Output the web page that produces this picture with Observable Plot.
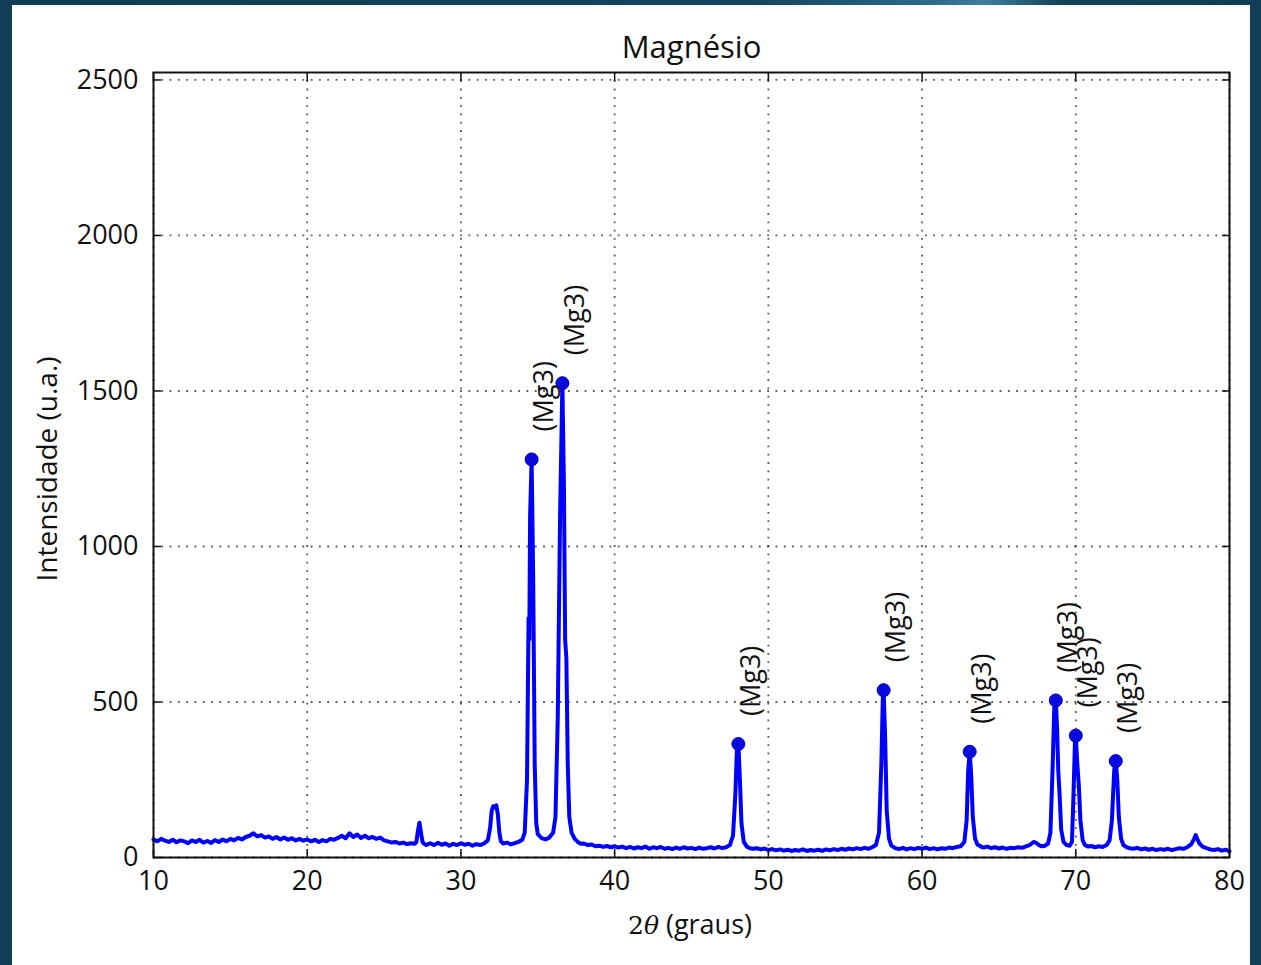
<!DOCTYPE html>
<html>
<head>
<meta charset="utf-8">
<script src="https://cdn.jsdelivr.net/npm/d3@7"></script>
<script src="https://cdn.jsdelivr.net/npm/@observablehq/plot@0.6"></script>
<style>
  html, body { margin: 0; padding: 0; width: 1261px; height: 965px; overflow: hidden; }
  body {
    position: relative;
    font-family: 'Open Sans', sans-serif;
    background: linear-gradient(to right, #123d56 0%, #15445e 60%, #2b6b8a 74%, #3d7f9c 78%, #16425b 84%, #123d56 100%);
  }
  #card { position: absolute; left: 12px; top: 5px; width: 1238px; height: 960px; background: #fff; }
  #chart { position: absolute; left: 0; top: 0; }
  #xlabel {
    position: absolute; left: 490px; width: 400px; top: 905px; line-height: 38px;
    text-align: center; font-size: 27px; color: #111;
  }
  #xlabel .m { font-family: 'DejaVu Serif', serif; font-size: 25px; }
  #xlabel .m i { font-style: italic; }
</style>
</head>
<body>
<div id="card"></div>
<div id="chart"></div>
<div id="xlabel"><span class="m">2<i>θ</i></span> (graus)</div>
<script>
// ---- data ----
const title = "Magnésio";
const yLabel = "Intensidade (u.a.)";
const xTicks = [10, 20, 30, 40, 50, 60, 70, 80];
const yTicks = [0, 500, 1000, 1500, 2000, 2500];

// diffraction scan: [2θ (degrees), intensity (u.a.)]
const scan = [
  [10.00,58],[10.25,52],[10.50,60],[10.75,54],[11.00,50],[11.25,57],[11.50,49],[11.75,55],
  [12.00,52],[12.25,46],[12.50,55],[12.75,50],[13.00,57],[13.25,48],[13.50,53],[13.75,47],
  [14.00,56],[14.25,50],[14.50,58],[14.75,52],[15.00,60],[15.25,55],[15.50,63],[15.75,58],
  [16.00,66],[16.25,70],[16.50,78],[16.75,68],[17.00,72],[17.25,64],[17.50,68],[17.75,60],
  [18.00,66],[18.25,58],[18.50,64],[18.75,57],[19.00,62],[19.25,55],[19.50,60],[19.75,54],
  [20.00,58],[20.25,52],[20.50,57],[20.75,50],[21.00,56],[21.25,52],[21.50,60],[21.75,57],
  [22.00,63],[22.25,70],[22.50,62],[22.75,78],[23.00,66],[23.25,74],[23.50,63],[23.75,70],
  [24.00,62],[24.25,66],[24.50,60],[24.75,64],[25.00,55],[25.25,52],[25.50,48],[25.75,50],
  [26.00,45],[26.25,48],[26.50,43],[26.75,46],[27.00,44],[27.10,50],[27.20,85],[27.30,112],
  [27.40,80],[27.50,50],[27.60,44],[27.75,40],[28.00,46],[28.25,40],[28.50,47],[28.75,41],
  [29.00,45],[29.25,38],[29.50,44],[29.75,40],[30.00,46],[30.25,41],[30.50,44],[30.75,38],
  [31.00,43],[31.25,40],[31.50,45],[31.75,55],[31.90,95],[32.00,150],[32.10,165],[32.20,160],
  [32.30,168],[32.40,140],[32.50,80],[32.60,52],[32.75,45],[33.00,48],[33.25,42],[33.50,46],
  [33.75,50],[34.00,58],[34.15,80],[34.30,250],[34.40,770],[34.45,700],[34.50,1100],[34.60,1280],
  [34.70,900],[34.80,300],[34.90,110],[35.00,75],[35.25,62],[35.50,58],[35.75,64],[36.00,80],
  [36.15,130],[36.30,450],[36.45,1100],[36.60,1525],[36.70,1200],[36.78,700],[36.86,640],[36.95,300],
  [37.05,130],[37.20,80],[37.40,60],[37.60,50],[37.80,44],[38.00,45],[38.25,40],[38.50,42],
  [38.75,36],[39.00,38],[39.25,34],[39.50,37],[39.75,33],[40.00,36],[40.25,32],[40.50,35],
  [40.75,30],[41.00,34],[41.25,29],[41.50,33],[41.75,30],[42.00,35],[42.25,28],[42.50,33],
  [42.75,30],[43.00,34],[43.25,28],[43.50,31],[43.75,27],[44.00,32],[44.25,28],[44.50,33],
  [44.75,29],[45.00,31],[45.25,27],[45.50,32],[45.75,28],[46.00,30],[46.25,33],[46.50,29],
  [46.75,34],[47.00,30],[47.25,33],[47.50,40],[47.70,70],[47.85,200],[47.95,340],[48.05,365],
  [48.15,250],[48.25,110],[48.40,50],[48.60,35],[48.80,30],[49.00,28],[49.25,30],[49.50,26],
  [49.75,29],[50.00,24],[50.25,27],[50.50,23],[50.75,26],[51.00,22],[51.25,25],[51.50,21],
  [51.75,24],[52.00,22],[52.25,26],[52.50,21],[52.75,24],[53.00,22],[53.25,25],[53.50,21],
  [53.75,26],[54.00,23],[54.25,27],[54.50,24],[54.75,28],[55.00,25],[55.25,29],[55.50,26],
  [55.75,30],[56.00,27],[56.25,31],[56.50,28],[56.75,33],[57.00,40],[57.20,80],[57.35,300],
  [57.45,520],[57.50,538],[57.60,380],[57.70,150],[57.85,60],[58.00,38],[58.25,30],[58.50,27],
  [58.75,31],[59.00,26],[59.25,30],[59.50,27],[59.75,31],[60.00,28],[60.25,32],[60.50,27],
  [60.75,30],[61.00,26],[61.25,30],[61.50,28],[61.75,32],[62.00,30],[62.25,34],[62.50,36],
  [62.75,50],[62.90,120],[63.00,280],[63.10,340],[63.20,260],[63.30,130],[63.45,60],[63.60,42],
  [63.80,36],[64.00,32],[64.25,35],[64.50,30],[64.75,33],[65.00,29],[65.25,32],[65.50,28],
  [65.75,31],[66.00,30],[66.25,33],[66.50,31],[66.75,36],[67.00,40],[67.25,50],[67.40,48],
  [67.60,40],[67.80,36],[68.00,38],[68.20,45],[68.35,80],[68.50,300],[68.60,480],[68.70,505],
  [68.78,420],[68.86,280],[68.95,200],[69.05,90],[69.20,50],[69.40,40],[69.60,38],[69.75,50],
  [69.85,200],[69.95,380],[70.00,392],[70.10,300],[70.20,230],[70.30,120],[70.45,55],[70.60,40],
  [70.80,35],[71.00,37],[71.25,33],[71.50,36],[71.75,34],[72.00,40],[72.20,55],[72.35,120],
  [72.50,280],[72.60,310],[72.70,250],[72.80,130],[72.95,60],[73.10,40],[73.30,33],[73.50,30],
  [73.75,28],[74.00,31],[74.25,26],[74.50,29],[74.75,25],[75.00,28],[75.25,24],[75.50,27],
  [75.75,25],[76.00,28],[76.25,24],[76.50,27],[76.75,30],[77.00,28],[77.25,33],[77.50,42],
  [77.70,60],[77.80,72],[77.90,60],[78.05,45],[78.25,35],[78.50,30],[78.75,26],[79.00,24],
  [79.25,27],[79.50,22],[79.75,25],[80.00,20]
];

// identified peaks: [2θ, intensity]
const peaks = [
  [34.60,1280],[36.60,1525],[48.05,365],[57.50,538],
  [63.10,340],[68.70,505],[70.00,392],[72.60,310]
];
const peakLabels = ["(Mg3)","(Mg3)","(Mg3)","(Mg3)","(Mg3)","(Mg3)","(Mg3)","(Mg3)"];

// ---- build chart ----
const rows = scan.map(([a, c]) => ({a, c}));
const peakRows = peaks.map(([a, c], i) => ({a, c, label: peakLabels[i]}));

const blue = "#0000ff";
const fs = 27;
const plain = d3.format("d");

const chart = Plot.plot({
  width: 1261,
  height: 965,
  marginLeft: 153,
  marginRight: 32,
  marginTop: 72,
  marginBottom: 108,
  style: {fontFamily: "'Open Sans', sans-serif", background: "transparent", color: "#111", overflow: "visible"},
  x: {domain: [10, 80]},
  y: {domain: [0, 2524]},
  marks: [
    Plot.gridX(xTicks, {stroke: "#222", strokeOpacity: 0.75, strokeWidth: 1.8, strokeDasharray: "1.8,6.5"}),
    Plot.gridY(yTicks, {stroke: "#222", strokeOpacity: 0.75, strokeWidth: 1.8, strokeDasharray: "1.8,6.5"}),
    Plot.line(rows, {x: "a", y: "c", stroke: blue, strokeWidth: 4, strokeLinejoin: "round"}),
    Plot.dot(peakRows, {x: "a", y: "c", r: 6.5, fill: "#0a0ae0", stroke: "#0000b0", strokeWidth: 1}),
    Plot.text(peakRows, {x: "a", y: "c", text: "label", rotate: -90, textAnchor: "start", lineAnchor: "middle", dx: 13, dy: -28, fontSize: 27, fill: "#111"}),
    Plot.frame({stroke: "#111", strokeWidth: 2}),
    Plot.axisX(xTicks, {anchor: "bottom", tickSize: -8, tickPadding: 21, fontSize: fs, tickFormat: plain, label: null, stroke: "#111", strokeWidth: 1.5}),
    Plot.axisX(xTicks, {anchor: "top", tickSize: -8, tickFormat: () => "", label: null, stroke: "#111", strokeWidth: 1.5}),
    Plot.axisY(yTicks, {anchor: "left", tickSize: -8, tickPadding: 23, fontSize: fs, tickFormat: plain, label: null, stroke: "#111", strokeWidth: 1.5}),
    Plot.axisY(yTicks, {anchor: "right", tickSize: -8, tickFormat: () => "", label: null, stroke: "#111", strokeWidth: 1.5}),
    Plot.text([title], {frameAnchor: "top", lineAnchor: "middle", textAnchor: "middle", dy: -24, fontSize: 31, fill: "#111"}),
    Plot.text([yLabel], {frameAnchor: "left", rotate: -90, textAnchor: "middle", lineAnchor: "middle", dx: -105, dy: 4, fontSize: 28, fill: "#111"})
  ]
});
document.getElementById("chart").appendChild(chart);
</script>
</body>
</html>
